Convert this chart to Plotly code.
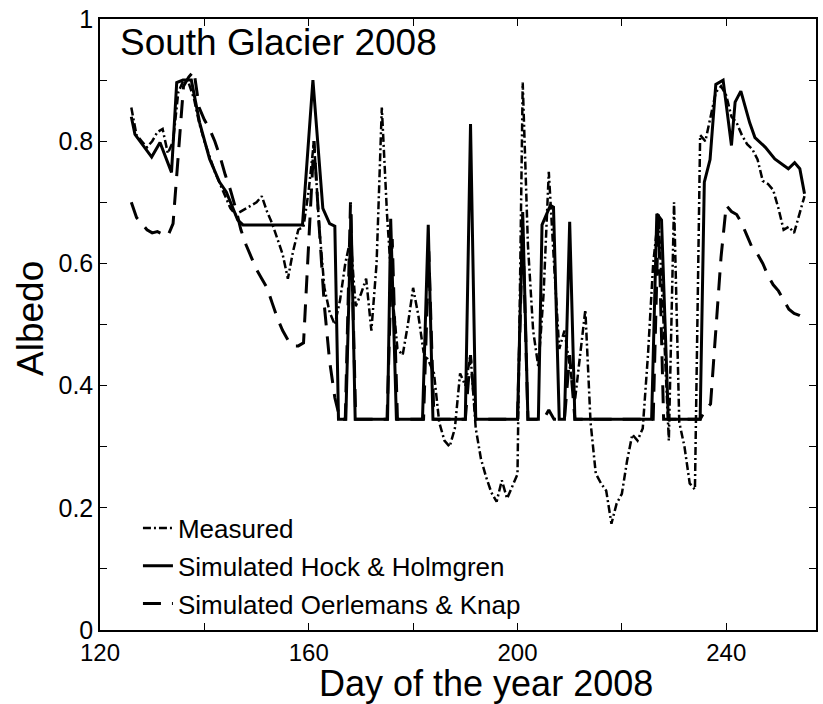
import plotly.graph_objects as go

# ---------------- data ----------------
meas_days = list(range(126, 256))
meas_vals = [
    0.855, 0.81, 0.80, 0.79, 0.80, 0.815, 0.82, 0.78, 0.80, 0.88,
    0.90, 0.895, 0.87, 0.83, 0.80, 0.775, 0.75, 0.73, 0.71, 0.69,
    0.68, 0.685, 0.69, 0.695, 0.70, 0.71, 0.685, 0.665, 0.64, 0.615,
    0.575, 0.62, 0.655, 0.66, 0.72, 0.80, 0.66, 0.56, 0.52, 0.50,
    0.54, 0.60, 0.64, 0.53, 0.55, 0.575, 0.49, 0.60, 0.855, 0.68,
    0.55, 0.46, 0.45, 0.50, 0.56, 0.515, 0.455, 0.44, 0.42, 0.34,
    0.31, 0.30, 0.33, 0.42, 0.40, 0.45, 0.33, 0.28, 0.25, 0.225,
    0.21, 0.245, 0.215, 0.235, 0.255, 0.896, 0.63, 0.49, 0.43, 0.55,
    0.75, 0.60, 0.46, 0.49, 0.43, 0.375, 0.45, 0.524, 0.34, 0.256,
    0.24, 0.228, 0.174, 0.207, 0.223, 0.277, 0.32, 0.31, 0.33, 0.45,
    0.60, 0.68, 0.50, 0.31, 0.70, 0.34, 0.30, 0.24, 0.23, 0.81,
    0.80, 0.84, 0.88, 0.89, 0.875, 0.84, 0.83, 0.81, 0.795, 0.787,
    0.77, 0.735, 0.73, 0.72, 0.69, 0.655, 0.66, 0.65, 0.68, 0.71,
]

hh_days = [126, 126.7, 129.9, 131.5, 133.7, 134.7, 135.9, 137.5, 139.1, 141,
           142.9, 144.2, 146.4, 147.4, 158.8, 160.8, 162.7, 164, 165, 165.7,
           167.1, 168.1, 168.9, 175.1, 175.7, 176.8, 181.8, 182.9, 183.8, 190,
           191, 192, 200, 201, 202, 204, 204.7, 206.3, 206.9, 208,
           209, 210, 211, 225.7, 226.7, 227.6, 228.9, 235, 235.8, 236.9,
           238, 239.4, 241, 241.7, 242.8, 244.5, 245.5, 247.5, 249.3, 251.9,
           253.1, 254.1, 255]
hh_vals = [0.84, 0.811, 0.774, 0.798, 0.749, 0.896, 0.90, 0.90, 0.83, 0.771,
           0.733, 0.717, 0.671, 0.663, 0.663, 0.90, 0.69, 0.665, 0.661, 0.345,
           0.345, 0.681, 0.345, 0.345, 0.673, 0.345, 0.345, 0.663, 0.345, 0.345,
           0.828, 0.345, 0.345, 0.684, 0.345, 0.345, 0.663, 0.695, 0.692, 0.345,
           0.345, 0.668, 0.345, 0.345, 0.681, 0.671, 0.345, 0.345, 0.733, 0.77,
           0.893, 0.90, 0.793, 0.864, 0.882, 0.83, 0.806, 0.79, 0.771, 0.755,
           0.765, 0.755, 0.714]

ok_days = list(range(126, 256))
ok_vals = [
    0.70, 0.675, 0.665, 0.655, 0.65, 0.652, 0.648, 0.645, 0.665, 0.78,
    0.89, 0.905, 0.915, 0.855, 0.835, 0.82, 0.80, 0.775, 0.745, 0.72,
    0.69, 0.655, 0.63, 0.61, 0.59, 0.575, 0.56, 0.535, 0.51, 0.49,
    0.475, 0.465, 0.465, 0.47, 0.63, 0.80, 0.66, 0.53, 0.44, 0.38,
    0.345, 0.345, 0.70, 0.345, 0.345, 0.345, 0.345, 0.345, 0.345, 0.345,
    0.64, 0.345, 0.345, 0.345, 0.345, 0.345, 0.345, 0.62, 0.345, 0.345,
    0.345, 0.345, 0.345, 0.345, 0.345, 0.45, 0.345, 0.345, 0.345, 0.345,
    0.345, 0.345, 0.345, 0.345, 0.345, 0.66, 0.345, 0.345, 0.345, 0.345,
    0.36, 0.345, 0.345, 0.345, 0.45, 0.345, 0.345, 0.345, 0.345, 0.345,
    0.345, 0.345, 0.345, 0.345, 0.345, 0.345, 0.345, 0.345, 0.345, 0.345,
    0.345, 0.68, 0.345, 0.345, 0.345, 0.345, 0.345, 0.345, 0.345, 0.345,
    0.36, 0.37, 0.49, 0.61, 0.695, 0.685, 0.68, 0.665, 0.645, 0.625,
    0.615, 0.60, 0.58, 0.565, 0.555, 0.54, 0.525, 0.518, 0.515, 0.51,
]

x_tickvals = [120, 140, 160, 180, 200, 220, 240]
x_ticktext = ["120", "", "160", "", "200", "", "240"]
y_tickvals = [0, 0.1, 0.2, 0.3, 0.4, 0.5, 0.6, 0.7, 0.8, 0.9, 1.0]
y_ticktext = ["0", "", "0.2", "", "0.4", "", "0.6", "", "0.8", "", "1"]

FONT = "Liberation Sans, Arial, Helvetica, sans-serif"

fig = go.Figure()
fig.add_trace(go.Scatter(
    x=meas_days, y=meas_vals, mode="lines", name="Measured",
    legendgroup="a",
    line=dict(color="black", width=2.5, dash="8px,3px,2px,3px"),
))
fig.add_trace(go.Scatter(
    x=hh_days, y=hh_vals, mode="lines", name="Simulated Hock & Holmgren",
    legendgroup="b",
    line=dict(color="black", width=3),
))
fig.add_trace(go.Scatter(
    x=ok_days, y=ok_vals, mode="lines", name="Simulated Oerlemans & Knap",
    legendgroup="c",
    line=dict(color="black", width=3, dash="18px,11px"),
))

fig.update_layout(
    width=823, height=704,
    margin=dict(l=100, r=5, t=16, b=74),
    paper_bgcolor="white", plot_bgcolor="white",
    font=dict(family=FONT, color="black"),
    showlegend=True,
    legend=dict(
        x=0.053, y=0.004, xanchor="left", yanchor="bottom",
        bgcolor="rgba(255,255,255,0)", borderwidth=0,
        font=dict(size=26, family=FONT, color="black"),
        tracegroupgap=1,
    ),
    xaxis=dict(
        range=[120, 257.2], tickvals=x_tickvals, ticktext=x_ticktext,
        ticks="inside", ticklen=7, tickwidth=1.2, tickcolor="black",
        showline=True, linewidth=1.5, linecolor="black", mirror="ticks",
        showgrid=False, zeroline=False,
        tickfont=dict(size=24, family=FONT, color="black"),
    ),
    yaxis=dict(
        range=[0, 1], tickvals=y_tickvals, ticktext=y_ticktext,
        ticks="inside", ticklen=7, tickwidth=1.2, tickcolor="black",
        showline=True, linewidth=1.5, linecolor="black", mirror="ticks",
        showgrid=False, zeroline=False, ticklabelstandoff=0,
        tickfont=dict(size=25, family=FONT, color="black"),
    ),
    annotations=[
        dict(text="South Glacier 2008", xref="paper", yref="paper",
             x=0.0245, y=0.962, xanchor="left", yanchor="middle",
             showarrow=False, font=dict(size=37, family=FONT, color="black")),
        dict(text="Day of the year 2008", xref="paper", yref="paper",
             x=0.539, y=-0.087, xanchor="center", yanchor="middle",
             showarrow=False, font=dict(size=36, family=FONT, color="black")),
        dict(text="Albedo", xref="paper", yref="paper",
             x=-0.097, y=0.51, xanchor="center", yanchor="middle", textangle=-90,
             showarrow=False, font=dict(size=37, family=FONT, color="black")),
    ],
)

fig.write_html("out.html")
